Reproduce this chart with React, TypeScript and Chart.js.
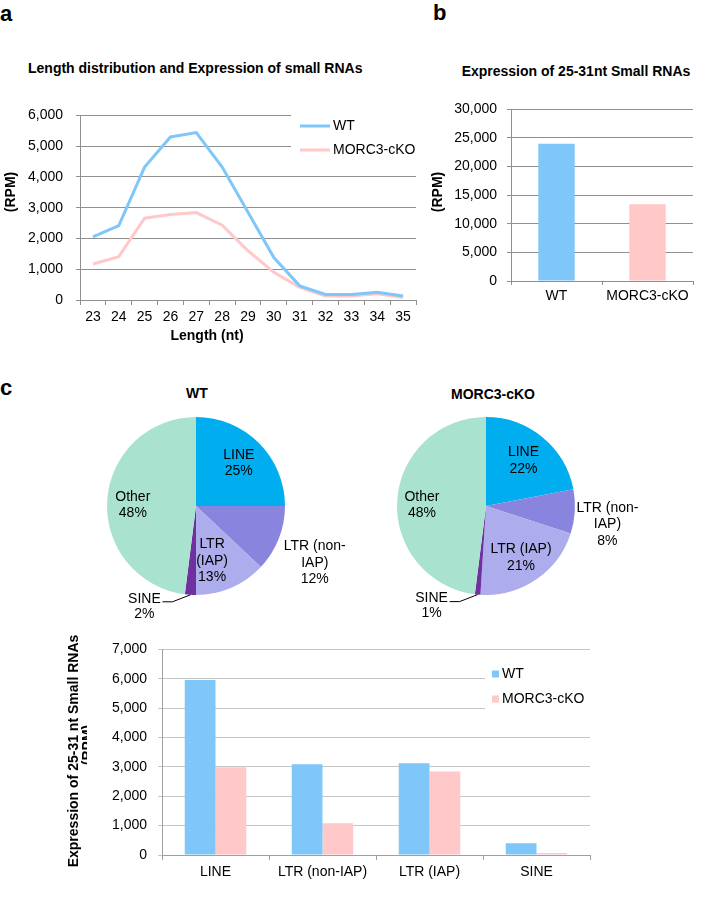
import React, { useEffect, useRef } from "react";
import { Chart, registerables } from "chart.js";

Chart.register(...registerables);

const FONT = "'Liberation Sans', Arial, Helvetica, sans-serif";
Chart.defaults.font.family = FONT;
Chart.defaults.font.size = 14;
Chart.defaults.color = "#000";

// ---------- data ----------
const lengthLabels = ["23", "24", "25", "26", "27", "28", "29", "30", "31", "32", "33", "34", "35"];
const wtLength = [2050, 2420, 4320, 5300, 5440, 4320, 2850, 1380, 460, 180, 180, 250, 130];
const koLength = [1170, 1410, 2660, 2780, 2840, 2430, 1600, 900, 410, 130, 130, 200, 80];
const seriesNames = ["WT", "MORC3-cKO"];

const totalLabels = ["WT", "MORC3-cKO"];
const totalValues = [24000, 13400];

const repeatClasses = ["LINE", "LTR (non-IAP)", "LTR (IAP)", "SINE", "Other"];
const wtShare = [25, 12, 13, 2, 48];
const koShare = [22, 8, 21, 1, 48];

const teClasses = ["LINE", "LTR (non-IAP)", "LTR (IAP)", "SINE"];
const wtTE = [5960, 3090, 3120, 400];
const koTE = [2990, 1080, 2840, 70];

// ---------- styles ----------
const WT_COLOR = "#7FC7F9";
const KO_COLOR = "#FFC8C9";
const PIE_COLORS = ["#00AEEF", "#8985DF", "#ADACEC", "#7030A0", "#A9E3CF"];
const GRID_DARK = "#8f8f8f";
const GRID_LIGHT = "#c6c6c6";

const fmt = (v: any) => Number(v).toLocaleString("en-US");

type TextItem = {
  t: string;
  x: number;
  y: number;
  font: string;
  rot?: number;
  align?: CanvasTextAlign;
  clipX?: number;
};

function makeTextPlugin(items: TextItem[]) {
  return {
    id: "texts",
    afterDraw(chart: any) {
      const ctx: CanvasRenderingContext2D = chart.ctx;
      for (const it of items) {
        ctx.save();
        if (it.clipX !== undefined) {
          ctx.beginPath();
          ctx.rect(0, 0, it.clipX, chart.height);
          ctx.clip();
        }
        ctx.translate(it.x, it.y);
        if (it.rot) ctx.rotate(it.rot);
        ctx.font = it.font;
        ctx.fillStyle = "#000";
        ctx.textAlign = it.align || "center";
        ctx.textBaseline = "middle";
        ctx.fillText(it.t, 0, 0);
        ctx.restore();
      }
    },
  };
}

type LegendSpec = {
  box: [number, number, number, number];
  x: number;
  ys: number[];
  kind: "line" | "square";
};

function makeLegendPlugin(spec: LegendSpec) {
  return {
    id: "customLegend",
    afterDraw(chart: any) {
      const ctx: CanvasRenderingContext2D = chart.ctx;
      ctx.save();
      ctx.fillStyle = "#fff";
      ctx.fillRect(spec.box[0], spec.box[1], spec.box[2], spec.box[3]);
      chart.data.datasets.forEach((ds: any, i: number) => {
        const y = spec.ys[i];
        const color = ds.borderColor && spec.kind === "line" ? ds.borderColor : ds.backgroundColor;
        let tx: number;
        if (spec.kind === "line") {
          ctx.strokeStyle = color;
          ctx.lineWidth = 3;
          ctx.beginPath();
          ctx.moveTo(spec.x, y);
          ctx.lineTo(spec.x + 30, y);
          ctx.stroke();
          tx = spec.x + 33;
        } else {
          ctx.fillStyle = color;
          ctx.fillRect(spec.x, y - 3.5, 7, 7);
          tx = spec.x + 10;
        }
        ctx.fillStyle = "#000";
        ctx.font = `14px ${FONT}`;
        ctx.textAlign = "left";
        ctx.textBaseline = "middle";
        ctx.fillText(ds.label, tx, y);
      });
      ctx.restore();
    },
  };
}

type PieLabel = { lines: string[]; rf?: number; da?: number; leader?: boolean };

function makePieLabelPlugin(specs: PieLabel[], values: number[]) {
  return {
    id: "pieLabels",
    afterDatasetsDraw(chart: any) {
      const ctx: CanvasRenderingContext2D = chart.ctx;
      const meta = chart.getDatasetMeta(0);
      ctx.save();
      ctx.font = `14px ${FONT}`;
      ctx.fillStyle = "#000";
      ctx.textAlign = "center";
      ctx.textBaseline = "middle";
      meta.data.forEach((arc: any, i: number) => {
        const spec = specs[i];
        const lines = [...spec.lines, `${values[i]}%`];
        const mid = (arc.startAngle + arc.endAngle) / 2;
        const R = arc.outerRadius;
        if (spec.leader) {
          const ex = arc.x + Math.cos(mid) * R;
          const ey = arc.y + Math.sin(mid) * R;
          ctx.strokeStyle = "#000";
          ctx.lineWidth = 1;
          ctx.beginPath();
          ctx.moveTo(ex, ey);
          ctx.lineTo(ex - 18, ey + 7);
          ctx.lineTo(ex - 28, ey + 7);
          ctx.stroke();
          ctx.fillText(lines[0], ex - 46, ey + 4);
          ctx.fillText(lines[1], ex - 46, ey + 19);
          return;
        }
        const a = mid + ((spec.da || 0) * Math.PI) / 180;
        const cx = arc.x + Math.cos(a) * R * (spec.rf || 0.68);
        const cy = arc.y + Math.sin(a) * R * (spec.rf || 0.68);
        const lh = 16.5;
        const y0 = cy - ((lines.length - 1) * lh) / 2;
        lines.forEach((l, k) => ctx.fillText(l, cx, y0 + k * lh));
      });
      ctx.restore();
    },
  };
}

// ---------- chart configs ----------
function lengthChart(): any {
  return {
    type: "line",
    data: {
      labels: lengthLabels,
      datasets: [
        { label: seriesNames[0], data: wtLength, borderColor: WT_COLOR, backgroundColor: WT_COLOR, borderWidth: 3, pointRadius: 0, tension: 0 },
        { label: seriesNames[1], data: koLength, borderColor: KO_COLOR, backgroundColor: KO_COLOR, borderWidth: 3, pointRadius: 0, tension: 0 },
      ],
    },
    options: {
      animation: false,
      responsive: false,
      devicePixelRatio: 1,
      layout: { padding: { top: 10, right: 9, left: 0, bottom: 0 } },
      plugins: { legend: { display: false }, tooltip: { enabled: false }, title: { display: false } },
      scales: {
        x: {
          offset: true,
          grid: { offset: true, drawOnChartArea: false, drawTicks: true, tickLength: 5, color: GRID_DARK },
          border: { color: GRID_DARK },
          ticks: { padding: 4, maxRotation: 0, autoSkip: false, font: { size: 14 } },
          afterFit: (s: any) => { s.height = 55; },
        },
        y: {
          min: 0,
          max: 6000,
          ticks: { stepSize: 1000, padding: 13, callback: fmt, font: { size: 14 } },
          grid: { color: GRID_DARK, tickLength: 4 },
          border: { color: GRID_DARK },
          afterFit: (s: any) => { s.width = 80; },
        },
      },
    },
    plugins: [
      makeLegendPlugin({ box: [291, 18, 134, 48], x: 300, ys: [32, 56], kind: "line" }),
      makeTextPlugin([
        { t: "(RPM)", x: 11, y: 98, font: `bold 14px ${FONT}`, rot: -Math.PI / 2 },
        { t: "Length (nt)", x: 207, y: 241.7, font: `bold 14px ${FONT}` },
      ]),
    ],
  };
}

function totalChart(): any {
  return {
    type: "bar",
    data: {
      labels: totalLabels,
      datasets: [
        { label: "total", data: totalValues, backgroundColor: [WT_COLOR, KO_COLOR], barPercentage: 0.4, categoryPercentage: 1 },
      ],
    },
    options: {
      animation: false,
      responsive: false,
      devicePixelRatio: 1,
      layout: { padding: { top: 10, right: 16, left: 0, bottom: 0 } },
      plugins: { legend: { display: false }, tooltip: { enabled: false } },
      scales: {
        x: {
          grid: { offset: true, drawOnChartArea: false, drawTicks: true, tickLength: 4, color: GRID_DARK },
          border: { color: GRID_DARK },
          ticks: { padding: 3, font: { size: 14 } },
          afterFit: (s: any) => { s.height = 30; },
        },
        y: {
          min: 0,
          max: 30000,
          ticks: { stepSize: 5000, padding: 10, callback: fmt, font: { size: 14 } },
          grid: { color: GRID_DARK, tickLength: 4 },
          border: { color: GRID_DARK },
          afterFit: (s: any) => { s.width = 81; },
        },
      },
    },
    plugins: [
      makeTextPlugin([{ t: "(RPM)", x: 8, y: 101, font: `bold 14px ${FONT}`, rot: -Math.PI / 2 }]),
    ],
  };
}

const wtPieLabels: PieLabel[] = [
  { lines: ["LINE"], rf: 0.68 },
  { lines: ["LTR (non-", "IAP)"], rf: 1.48, da: 4 },
  { lines: ["LTR", "(IAP)"], rf: 0.64, da: 7 },
  { lines: ["SINE"], leader: true },
  { lines: ["Other"], rf: 0.71, da: -3 },
];
const koPieLabels: PieLabel[] = [
  { lines: ["LINE"], rf: 0.66 },
  { lines: ["LTR (non-", "IAP)"], rf: 1.38, da: 5 },
  { lines: ["LTR (IAP)"], rf: 0.7 },
  { lines: ["SINE"], leader: true },
  { lines: ["Other"], rf: 0.72, da: -3 },
];

function pieChart(values: number[], labels: PieLabel[]) {
  return (): any => ({
    type: "pie",
    data: {
      labels: repeatClasses,
      datasets: [{ data: values, backgroundColor: PIE_COLORS, borderWidth: 0, hoverOffset: 0, offset: 0 }],
    },
    options: {
      animation: false,
      responsive: false,
      devicePixelRatio: 1,
      layout: { padding: { left: 41, right: 81, top: 37, bottom: 35 } },
      plugins: { legend: { display: false }, tooltip: { enabled: false } },
    },
    plugins: [makePieLabelPlugin(labels, values)],
  });
}

function teChart(): any {
  return {
    type: "bar",
    data: {
      labels: teClasses,
      datasets: [
        { label: seriesNames[0], data: wtTE, backgroundColor: WT_COLOR, categoryPercentage: 0.575, barPercentage: 1 },
        { label: seriesNames[1], data: koTE, backgroundColor: KO_COLOR, categoryPercentage: 0.575, barPercentage: 1 },
      ],
    },
    options: {
      animation: false,
      responsive: false,
      devicePixelRatio: 1,
      layout: { padding: { top: 12, right: 20, left: 0, bottom: 0 } },
      plugins: { legend: { display: false }, tooltip: { enabled: false } },
      scales: {
        x: {
          grid: { offset: true, drawOnChartArea: false, drawTicks: true, tickLength: 5, color: "#a0a0a0" },
          border: { color: "#a0a0a0" },
          ticks: { padding: 4, font: { size: 14 } },
          afterFit: (s: any) => { s.height = 45; },
        },
        y: {
          min: 0,
          max: 7000,
          ticks: { stepSize: 1000, padding: 11, callback: fmt, font: { size: 14 } },
          grid: { color: GRID_LIGHT, tickLength: 4 },
          border: { color: "#a0a0a0" },
          afterFit: (s: any) => { s.width = 112; },
        },
      },
    },
    plugins: [
      makeLegendPlugin({ box: [435, 27, 125, 55], x: 442, ys: [44, 69], kind: "square" }),
      makeTextPlugin([
        { t: "Expression of 25-31 nt Small RNAs", x: 24, y: 121, font: `bold 14px ${FONT}`, rot: -Math.PI / 2 },
        { t: "(RPM)", x: 38, y: 115, font: `bold 14px ${FONT}`, rot: -Math.PI / 2, clipX: 37 },
      ]),
    ],
  };
}

// ---------- components ----------
function ChartCanvas({ left, top, width, height, make }: { left: number; top: number; width: number; height: number; make: () => any }) {
  const ref = useRef<HTMLCanvasElement | null>(null);
  useEffect(() => {
    if (!ref.current) return;
    const chart = new Chart(ref.current, make());
    return () => chart.destroy();
  }, []);
  return (
    <canvas
      ref={ref}
      width={width}
      height={height}
      style={{ position: "absolute", left, top, width, height, display: "block" }}
    />
  );
}

function Txt({ children, left, top, size = 14, bold = true, center = false }: any) {
  return (
    <div
      style={{
        position: "absolute",
        left,
        top,
        fontFamily: FONT,
        fontSize: size,
        fontWeight: bold ? "bold" : "normal",
        lineHeight: `${size + 2}px`,
        whiteSpace: "nowrap",
        transform: center ? "translateX(-50%)" : undefined,
        color: "#000",
      }}
    >
      {children}
    </div>
  );
}

export default function App() {
  return (
    <div style={{ position: "absolute", left: 0, top: 0, width: 709, height: 911, background: "#fff", overflow: "hidden" }}>
      <Txt left={0} top={2} size={22}>a</Txt>
      <Txt left={433} top={1} size={22}>b</Txt>
      <Txt left={0} top={376} size={22}>c</Txt>

      <Txt left={28} top={60}>Length distribution and Expression of small RNAs</Txt>
      <Txt left={576} top={63} center>Expression of 25-31nt Small RNAs</Txt>
      <Txt left={197} top={385} center>WT</Txt>
      <Txt left={493} top={386} center>MORC3-cKO</Txt>

      <ChartCanvas left={0} top={94} width={425} height={261} make={lengthChart} />
      <ChartCanvas left={430} top={91} width={279} height={220} make={totalChart} />
      <ChartCanvas left={66} top={380} width={300} height={250} make={pieChart(wtShare, wtPieLabels)} />
      <ChartCanvas left={356} top={380} width={300} height={250} make={pieChart(koShare, koPieLabels)} />
      <ChartCanvas left={50} top={630} width={560} height={270} make={teChart} />
    </div>
  );
}
